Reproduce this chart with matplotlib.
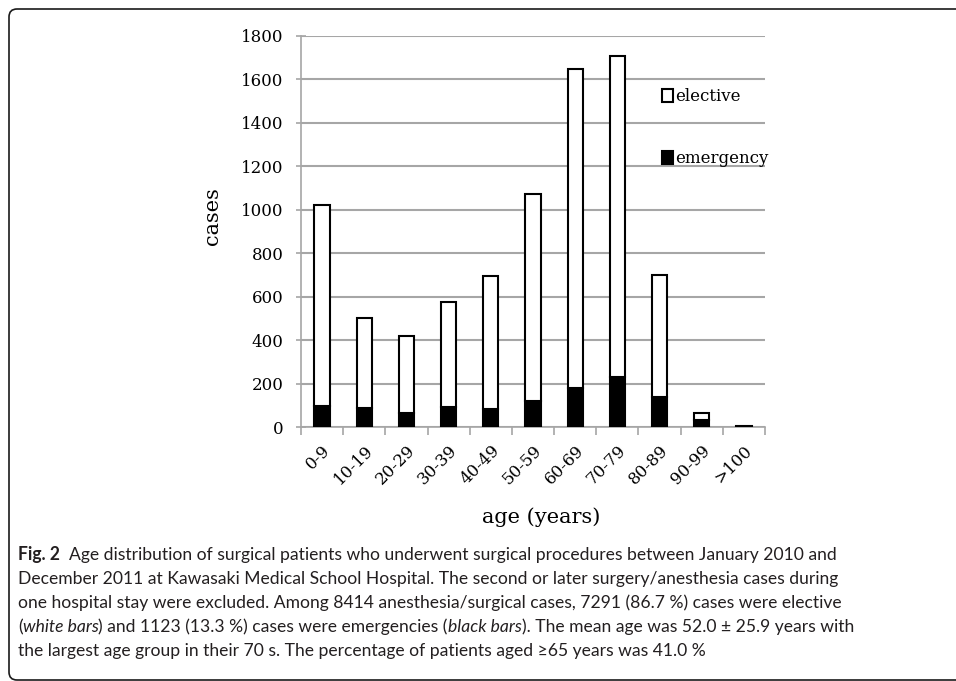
import numpy as np
import matplotlib
matplotlib.use("Agg")
import matplotlib.pyplot as plt
from matplotlib.patches import Patch, PathPatch
from matplotlib.path import Path
from matplotlib.transforms import ScaledTranslation

# Data
age_groups = ["0-9", "10-19", "20-29", "30-39", "40-49", "50-59",
              "60-69", "70-79", "80-89", "90-99", ">100"]
emergency = [95, 88, 64, 90, 82, 120, 180, 230, 140, 30, 2]
elective = [927, 415, 357, 485, 614, 953, 1466, 1480, 558, 35, 3]
y_ticks = [0, 200, 400, 600, 800, 1000, 1200, 1400, 1600, 1800]

caption_lines = [
    [("Fig. 2", "bold"), ("  ", None),
     ("Age distribution of surgical patients who underwent surgical procedures between January 2010 and", "normal")],
    [("December 2011 at Kawasaki Medical School Hospital. The second or later surgery/anesthesia cases during", "normal")],
    [("one hospital stay were excluded. Among 8414 anesthesia/surgical cases, 7291 (86.7 %) cases were elective", "normal")],
    [("(", "normal"), ("white bars", "italic"),
     (") and 1123 (13.3 %) cases were emergencies (", "normal"), ("black bars", "italic"),
     ("). The mean age was 52.0 \u00b1 25.9 years with", "normal")],
    [("the largest age group in their 70 s. The percentage of patients aged \u226565 years was 41.0 %", "normal")],
]

W, H = 956, 681
SERIF = "DejaVu Serif"
CAP_FONT = ["Lato", "Open Sans", "DejaVu Sans"]
GRID = "#a6a6a6"

fig = plt.figure(figsize=(W / 100, H / 100), dpi=100)
ax = fig.add_axes([301 / W, 1 - 427 / H, (765 - 301) / W, (427 - 36) / H])

x = np.arange(len(age_groups))
bw = 0.36
ax.bar(x, emergency, bw, color="black", edgecolor="black", linewidth=1.5, zorder=3)
ax.bar(x, elective, bw, bottom=emergency, color="white", edgecolor="black",
       linewidth=1.5, zorder=3)

ax.set_xlim(-0.5, len(age_groups) - 0.5)
ax.set_ylim(0, 1800)
ax.set_yticks(y_ticks)
ax.set_yticklabels([str(v) for v in y_ticks], family=SERIF, fontsize=12)
ax.yaxis.grid(True, color=GRID, linewidth=1.5)
ax.set_axisbelow(True)

ax.set_xticks(x)
ax.set_xticklabels(age_groups, family=SERIF, fontsize=12, rotation=45,
                   ha="right", rotation_mode="anchor")
shift = ScaledTranslation(-4 / 100, 0, fig.dpi_scale_trans)
for lbl in ax.get_xticklabels():
    lbl.set_transform(lbl.get_transform() + shift)
ax.set_xticks(np.arange(-0.5, len(age_groups), 1.0), minor=True)
ax.tick_params(axis="x", which="major", length=0, pad=11)
ax.tick_params(axis="x", which="minor", length=6, width=1.2, color=GRID, direction="out")
ax.tick_params(axis="y", length=7, width=1.2, color=GRID, direction="inout", pad=9)

for side in ["top", "right"]:
    ax.spines[side].set_visible(False)
for side in ["left", "bottom"]:
    ax.spines[side].set_color(GRID)
    ax.spines[side].set_linewidth(1.2)

ax.set_xlabel("age (years)", family=SERIF, fontsize=15)
ax.xaxis.set_label_coords(0.517, -0.205)
ax.set_ylabel("cases", family=SERIF, fontsize=15)
ax.yaxis.set_label_coords(-0.17, 0.54)

handles = [Patch(facecolor="white", edgecolor="black", linewidth=1.5),
           Patch(facecolor="black", edgecolor="black", linewidth=1.5)]
fig.legend(handles, ["elective", "emergency"], loc="upper left",
           bbox_to_anchor=(662 / W, 1 - 88 / H), frameon=False,
           prop={"family": SERIF, "size": 12}, handlelength=0.65,
           handleheight=0.8, handletextpad=0.15, labelspacing=2.7,
           borderpad=0, borderaxespad=0)

# Frame: top and left edges with rounded corners, open to the right
r = 8
pts_px = [(W + 5, 9), (9 + r, 9), (9, 9), (9, 9 + r), (9, H - 1 - r), (9, H - 1), (9 + r, H - 1), (W + 5, H - 1)]
codes = [Path.MOVETO, Path.LINETO, Path.CURVE3, Path.CURVE3,
         Path.LINETO, Path.CURVE3, Path.CURVE3, Path.LINETO]
verts = [(px / W, 1 - py / H) for px, py in pts_px]
fig.add_artist(PathPatch(Path(verts, codes), transform=fig.transFigure,
                         facecolor="none", edgecolor="#1a1a1a", linewidth=1.2))

# Caption with mixed styles
renderer = fig.canvas.get_renderer()


def text_width(s, size, weight="normal", style="normal"):
    t = fig.text(0, 0, s, fontsize=size, family=CAP_FONT, weight=weight, style=style)
    w = t.get_window_extent(renderer).width
    t.remove()
    return w


ref_size = 12
w2 = text_width(caption_lines[1][0][0], ref_size)
cap_size = ref_size * (836 - 18) / w2
space_w = text_width("a a", cap_size) - text_width("aa", cap_size)

y0 = 560
for i, segs in enumerate(caption_lines):
    xp = 18
    yp = y0 + i * 24
    for txt, kind in segs:
        if kind is None:
            xp += space_w * len(txt)
            continue
        weight = "bold" if kind == "bold" else "normal"
        style = "italic" if kind == "italic" else "normal"
        t = fig.text(xp / W, 1 - yp / H, txt, fontsize=cap_size, family=CAP_FONT,
                     weight=weight, style=style, va="baseline", color="#231f20")
        xp += t.get_window_extent(renderer).width

fig.savefig("out.png", dpi=100)
